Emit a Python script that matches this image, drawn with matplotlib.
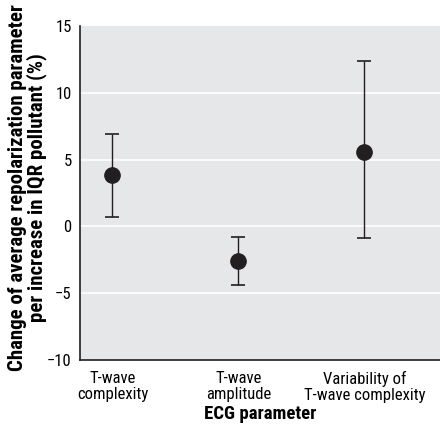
import matplotlib
matplotlib.use("Agg")
import matplotlib.pyplot as plt

plt.rcParams['font.family'] = ['Roboto Condensed', 'Archivo Narrow', 'DejaVu Sans']

categories = ["T-wave\ncomplexity", "T-wave\namplitude", "Variability of\nT-wave complexity"]
estimate = [3.85, -2.6, 5.6]
lower = [0.7, -4.35, -0.9]
upper = [6.95, -0.8, 12.4]

fig = plt.figure(figsize=(4.4, 4.28), dpi=100)
ax = fig.add_axes([0.1818, 0.1589, 0.8182, 0.7804])
ax.set_facecolor("#e6e7e8")
xs = list(range(len(categories)))
yerr = [[e - l for e, l in zip(estimate, lower)], [u - e for e, u in zip(estimate, upper)]]
ax.errorbar(xs, estimate, yerr=yerr, fmt='o', color='#231f20', ecolor='#231f20',
            markersize=11, elinewidth=1.0, capsize=5, capthick=1.2, zorder=3)
ax.set_xlim(-0.257, 2.6)
ax.set_ylim(-10, 15)
ax.set_yticks([-10, -5, 0, 5, 10, 15])
ax.set_yticklabels(["\u221210", "\u22125", "0", "5", "10", "15"])
ax.set_xticks(xs)
ax.set_xticklabels(categories, fontsize=12, linespacing=1.05)
ax.tick_params(axis='both', length=0, labelsize=12, pad=6)
ax.tick_params(axis='x', pad=8)
for y in [-5, 0, 5, 10]:
    ax.axhline(y, color='white', lw=1.2, zorder=1)
for s in ['top', 'right']:
    ax.spines[s].set_visible(False)
for s in ['left', 'bottom']:
    ax.spines[s].set_color('#231f20')
    ax.spines[s].set_linewidth(1.2)
ax.set_xlabel("ECG parameter", fontsize=13.5, fontweight='bold', labelpad=2)
fig.text(47 / 440, 1 - 188 / 428,
         "Change of average repolarization parameter\nper increase in IQR pollutant (%)",
         rotation=90, ha='right', va='center', multialignment='center',
         fontsize=15, fontweight='bold', linespacing=0.95)
fig.savefig("out.png", dpi=100)
